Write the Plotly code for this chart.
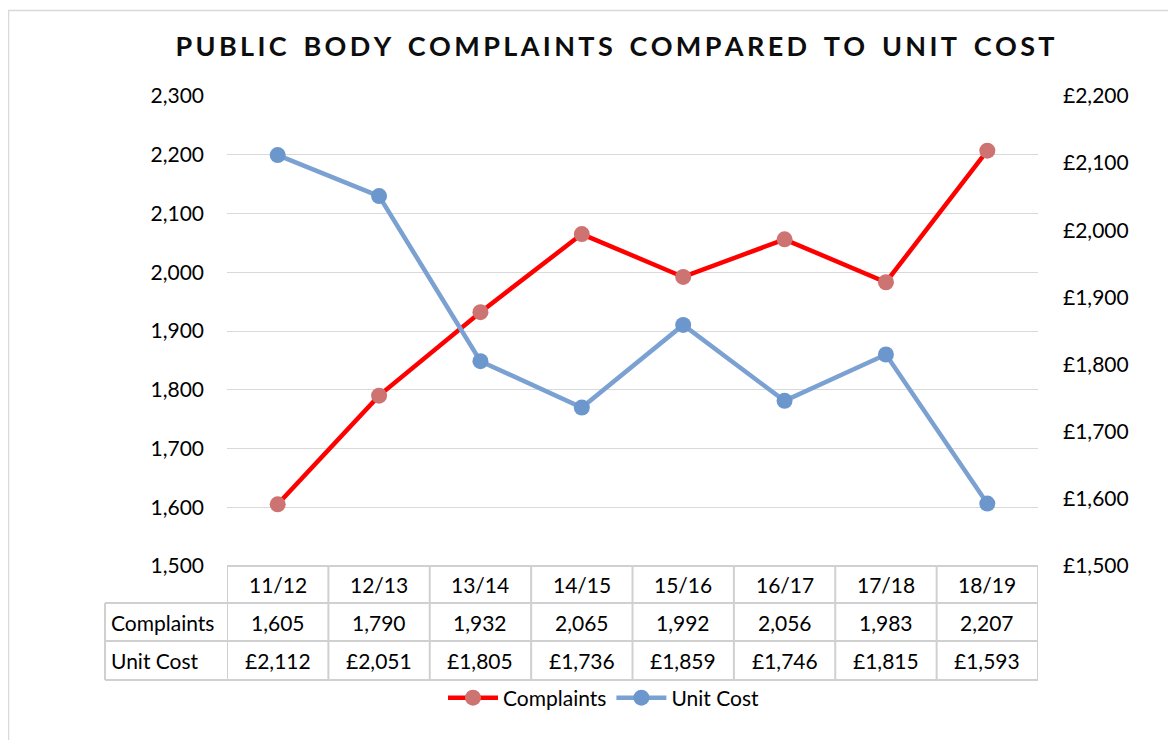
import plotly.graph_objects as go

categories = ["11/12", "12/13", "13/14", "14/15", "15/16", "16/17", "17/18", "18/19"]
complaints = [1605, 1790, 1932, 2065, 1992, 2056, 1983, 2207]
unit_cost = [2112, 2051, 1805, 1736, 1859, 1746, 1815, 1593]
left_ticks = [1500, 1600, 1700, 1800, 1900, 2000, 2100, 2200, 2300]
right_ticks = [1500, 1600, 1700, 1800, 1900, 2000, 2100, 2200]
title_text = "PUBLIC BODY COMPLAINTS COMPARED TO UNIT COST"

FONT = "Lato, Open Sans, sans-serif"
GRID = "#D9D9D9"

OFF = 8  # page body margin
W, H = 1176 - OFF, 740 - OFF
# reference pixel positions of plot area
REF_L, REF_R, REF_T, REF_B = 227, 1038, 96, 566
L = REF_L - OFF
T = REF_T - OFF
R = W - (REF_R - OFF)
B = H - (REF_B - OFF)
PW = W - L - R
PH = H - T - B

def py(pix):  # reference pixel y -> paper y
    return (REF_B - pix) / PH

def px(pix):  # reference pixel x -> paper x
    return (pix - REF_L) / PW

fig = go.Figure()
fig.add_trace(go.Scatter(
    x=categories, y=complaints, name="Complaints", mode="lines+markers",
    line=dict(color="#FF0000", width=4.5),
    marker=dict(color="#CD7371", size=16),
    yaxis="y",
))
fig.add_trace(go.Scatter(
    x=categories, y=unit_cost, name="Unit Cost", mode="lines+markers",
    line=dict(color="#7AA1D2", width=4.5),
    marker=dict(color="#6C97CC", size=16),
    yaxis="y2",
))

spaced_title = "\u2009".join(list(title_text)).replace("\u2009 \u2009", "\u2009\u2009 \u2009")

fig.update_layout(
    width=W, height=H,
    margin=dict(l=L, r=R, t=T, b=B),
    paper_bgcolor="white", plot_bgcolor="white",
    font=dict(family=FONT, size=21, color="#000000"),
    title=dict(text="<b>" + spaced_title + "</b>", x=((172 + 1058) / 2 - OFF) / W, xanchor="center",
               y=1 - (47 - OFF) / H, yanchor="middle",
               font=dict(family=FONT, size=27, color="#0D0D0D")),
    showlegend=True,
    legend=dict(orientation="h", x=px(604), xanchor="center", y=py(698), yanchor="middle",
                font=dict(size=21, family=FONT), itemwidth=50, tracegroupgap=0,
                bgcolor="rgba(0,0,0,0)"),
    xaxis=dict(type="category", range=[-0.5, len(categories) - 0.5],
               showticklabels=False, showgrid=False, zeroline=False, showline=False, ticks=""),
    yaxis=dict(range=[1500, 2300], tickvals=left_ticks,
               ticktext=[f"{v:,}" for v in left_ticks],
               showgrid=True, gridcolor=GRID, gridwidth=1.3, zeroline=False, showline=False,
               ticks="", ticklabelstandoff=22),
    yaxis2=dict(range=[1500, 2200], overlaying="y", side="right", tickvals=right_ticks,
                ticktext=[f"£{v:,}" for v in right_ticks],
                showgrid=False, zeroline=False, showline=False, ticks="", ticklabelstandoff=24),
)

shapes = []
# outer chart border
shapes.append(dict(type="rect", xref="paper", yref="paper",
                   x0=px(8.5), x1=px(1200), y0=py(10.5), y1=py(780),
                   line=dict(color="#D9D9D9", width=1.5), fillcolor="rgba(0,0,0,0)", layer="below"))

# data table
row_tops = [566, 603, 641, 680]
left_col_x = 105
tbl = dict(color="#D0D0D0", width=2)
shapes.append(dict(type="line", xref="x", yref="paper", x0=-0.5, x1=len(categories) - 0.5,
                   y0=py(row_tops[0]), y1=py(row_tops[0]), line=tbl))
for yy in row_tops[1:]:
    shapes.append(dict(type="line", xref="paper", yref="paper", x0=px(left_col_x), x1=1,
                       y0=py(yy), y1=py(yy), line=tbl))
for i in range(len(categories) + 1):
    shapes.append(dict(type="line", xref="x", yref="paper", x0=i - 0.5, x1=i - 0.5,
                       y0=py(row_tops[0]), y1=py(row_tops[3]), line=tbl))
shapes.append(dict(type="line", xref="paper", yref="paper", x0=px(left_col_x), x1=px(left_col_x),
                   y0=py(row_tops[1]), y1=py(row_tops[3]), line=tbl))
fig.update_layout(shapes=shapes)

ann = []
row_mid = [(row_tops[k] + row_tops[k + 1]) / 2 for k in range(3)]
for i, c in enumerate(categories):
    ann.append(dict(x=c, y=py(row_mid[0]), xref="x", yref="paper", text=c, showarrow=False,
                    xanchor="center", yanchor="middle"))
    ann.append(dict(x=c, y=py(row_mid[1]), xref="x", yref="paper", text=f"{complaints[i]:,}",
                    showarrow=False, xanchor="center", yanchor="middle"))
    ann.append(dict(x=c, y=py(row_mid[2]), xref="x", yref="paper", text=f"£{unit_cost[i]:,}",
                    showarrow=False, xanchor="center", yanchor="middle"))
for k, lbl in enumerate(["Complaints", "Unit Cost"]):
    ann.append(dict(x=px(left_col_x + 4), y=py(row_mid[k + 1]), xref="paper", yref="paper",
                    text=lbl, showarrow=False, xanchor="left", yanchor="middle"))
fig.update_layout(annotations=ann)

fig.write_html("out.html")
